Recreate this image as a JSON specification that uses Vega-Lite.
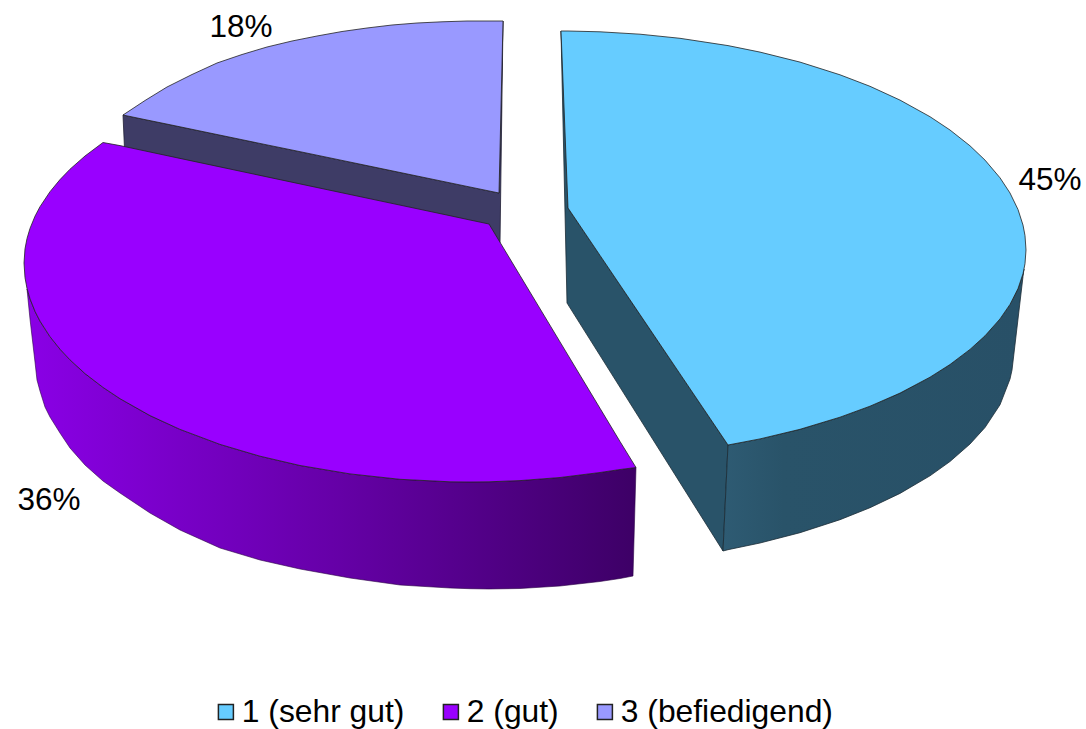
{"$schema":"https://vega.github.io/schema/vega-lite/v6.json","width":1086,"height":729,"padding":0,"autosize":{"type":"none"},"background":"white","config":{"view":{"stroke":null}},
"datasets":{"outline":[
{"slice":"1 (sehr gut)","face":"top","x":561,"y":31,"y2":31},{"slice":"1 (sehr gut)","face":"top","x":568,"y":31,"y2":208},{"slice":"1 (sehr gut)","face":"top","x":600,"y":31.8,"y2":255.4},{"slice":"1 (sehr gut)","face":"top","x":640,"y":34.2,"y2":314.6},{"slice":"1 (sehr gut)","face":"top","x":680,"y":38.3,"y2":373.9},{"slice":"1 (sehr gut)","face":"top","x":728,"y":45.6,"y2":445},{"slice":"1 (sehr gut)","face":"top","x":760,"y":52.1,"y2":438.9},{"slice":"1 (sehr gut)","face":"top","x":800,"y":62.1,"y2":429.3},{"slice":"1 (sehr gut)","face":"top","x":840,"y":74.8,"y2":417.2},{"slice":"1 (sehr gut)","face":"top","x":870,"y":86.3,"y2":406.2},{"slice":"1 (sehr gut)","face":"top","x":900,"y":100.1,"y2":393.1},{"slice":"1 (sehr gut)","face":"top","x":930,"y":116.7,"y2":377.2},{"slice":"1 (sehr gut)","face":"top","x":950,"y":130,"y2":364.5},{"slice":"1 (sehr gut)","face":"top","x":970,"y":145.8,"y2":349.4},{"slice":"1 (sehr gut)","face":"top","x":985,"y":160.1,"y2":335.8},{"slice":"1 (sehr gut)","face":"top","x":1000,"y":177.8,"y2":318.9},{"slice":"1 (sehr gut)","face":"top","x":1010,"y":193,"y2":304.4},{"slice":"1 (sehr gut)","face":"top","x":1018,"y":209.5,"y2":288.6},{"slice":"1 (sehr gut)","face":"top","x":1023,"y":225.1,"y2":273.7},{"slice":"1 (sehr gut)","face":"top","x":1025,"y":235.6,"y2":263.7},{"slice":"1 (sehr gut)","face":"top","x":1026,"y":250,"y2":250},
{"slice":"1 (sehr gut)","face":"side","x":723,"y":551,"y2":551},{"slice":"1 (sehr gut)","face":"side","x":728,"y":445,"y2":549.7},{"slice":"1 (sehr gut)","face":"side","x":760,"y":438.9,"y2":543},{"slice":"1 (sehr gut)","face":"side","x":800,"y":429.3,"y2":532.7},{"slice":"1 (sehr gut)","face":"side","x":840,"y":417.2,"y2":519.7},{"slice":"1 (sehr gut)","face":"side","x":870,"y":406.2,"y2":507.7},{"slice":"1 (sehr gut)","face":"side","x":900,"y":393.1,"y2":493.4},{"slice":"1 (sehr gut)","face":"side","x":930,"y":377.2,"y2":475.8},{"slice":"1 (sehr gut)","face":"side","x":950,"y":364.5,"y2":461.5},{"slice":"1 (sehr gut)","face":"side","x":970,"y":349.4,"y2":444},{"slice":"1 (sehr gut)","face":"side","x":985,"y":335.8,"y2":427.5},{"slice":"1 (sehr gut)","face":"side","x":1000,"y":318.9,"y2":404.8},{"slice":"1 (sehr gut)","face":"side","x":1010,"y":304.4,"y2":379},{"slice":"1 (sehr gut)","face":"side","x":1012,"y":300.9,"y2":370},{"slice":"1 (sehr gut)","face":"side","x":1018,"y":288.6,"y2":319},{"slice":"1 (sehr gut)","face":"side","x":1023,"y":273.7,"y2":276.5},{"slice":"1 (sehr gut)","face":"side","x":1024,"y":269,"y2":269},
{"slice":"1 (sehr gut)","face":"wall","x":561,"y":31,"y2":31},{"slice":"1 (sehr gut)","face":"wall","x":567,"y":150,"y2":303},{"slice":"1 (sehr gut)","face":"wall","x":568,"y":208,"y2":304.6},{"slice":"1 (sehr gut)","face":"wall","x":723,"y":437.6,"y2":551},{"slice":"1 (sehr gut)","face":"wall","x":728,"y":445,"y2":445},
{"slice":"3 (befiedigend)","face":"top","x":123,"y":115,"y2":115},{"slice":"3 (befiedigend)","face":"top","x":145,"y":100.5,"y2":119.6},{"slice":"3 (befiedigend)","face":"top","x":167,"y":87,"y2":124.1},{"slice":"3 (befiedigend)","face":"top","x":192,"y":74.5,"y2":129.3},{"slice":"3 (befiedigend)","face":"top","x":217,"y":63,"y2":134.5},{"slice":"3 (befiedigend)","face":"top","x":242,"y":54.5,"y2":139.7},{"slice":"3 (befiedigend)","face":"top","x":267,"y":47,"y2":144.9},{"slice":"3 (befiedigend)","face":"top","x":292,"y":41,"y2":150},{"slice":"3 (befiedigend)","face":"top","x":317,"y":36,"y2":155.2},{"slice":"3 (befiedigend)","face":"top","x":342,"y":31.5,"y2":160.4},{"slice":"3 (befiedigend)","face":"top","x":367,"y":28,"y2":165.6},{"slice":"3 (befiedigend)","face":"top","x":392,"y":25,"y2":170.8},{"slice":"3 (befiedigend)","face":"top","x":417,"y":23,"y2":176},{"slice":"3 (befiedigend)","face":"top","x":442,"y":21.8,"y2":181.2},{"slice":"3 (befiedigend)","face":"top","x":467,"y":21,"y2":186.4},{"slice":"3 (befiedigend)","face":"top","x":499,"y":21,"y2":193},{"slice":"3 (befiedigend)","face":"top","x":503,"y":21,"y2":21},
{"slice":"3 (befiedigend)","face":"wall","x":123,"y":115,"y2":115},{"slice":"3 (befiedigend)","face":"wall","x":125,"y":115.4,"y2":160},{"slice":"3 (befiedigend)","face":"wall","x":499,"y":193,"y2":243},{"slice":"3 (befiedigend)","face":"wall","x":500,"y":150,"y2":243},{"slice":"3 (befiedigend)","face":"wall","x":503,"y":21,"y2":21},
{"slice":"2 (gut)","face":"top","x":24,"y":263,"y2":263},{"slice":"2 (gut)","face":"top","x":25,"y":248.8,"y2":277.7},{"slice":"2 (gut)","face":"top","x":27,"y":238.5,"y2":288.4},{"slice":"2 (gut)","face":"top","x":30,"y":228.4,"y2":298.8},{"slice":"2 (gut)","face":"top","x":35,"y":216.2,"y2":311.3},{"slice":"2 (gut)","face":"top","x":40,"y":206.7,"y2":321.1},{"slice":"2 (gut)","face":"top","x":50,"y":191.7,"y2":336.7},{"slice":"2 (gut)","face":"top","x":60,"y":179.6,"y2":349.2},{"slice":"2 (gut)","face":"top","x":70,"y":169.2,"y2":359.9},{"slice":"2 (gut)","face":"top","x":85,"y":156,"y2":373.6},{"slice":"2 (gut)","face":"top","x":103,"y":142.5,"y2":387.4},{"slice":"2 (gut)","face":"top","x":120,"y":145.6,"y2":398.7},{"slice":"2 (gut)","face":"top","x":150,"y":152,"y2":415.6},{"slice":"2 (gut)","face":"top","x":180,"y":158.4,"y2":429.4},{"slice":"2 (gut)","face":"top","x":220,"y":166.9,"y2":444.4},{"slice":"2 (gut)","face":"top","x":260,"y":175.4,"y2":456.2},{"slice":"2 (gut)","face":"top","x":300,"y":183.9,"y2":465.5},{"slice":"2 (gut)","face":"top","x":350,"y":194.5,"y2":473.9},{"slice":"2 (gut)","face":"top","x":400,"y":205.1,"y2":479.3},{"slice":"2 (gut)","face":"top","x":450,"y":215.7,"y2":481.8},{"slice":"2 (gut)","face":"top","x":470,"y":220,"y2":482},{"slice":"2 (gut)","face":"top","x":489,"y":224,"y2":481.8},{"slice":"2 (gut)","face":"top","x":520,"y":275.5,"y2":480.6},{"slice":"2 (gut)","face":"top","x":560,"y":341.9,"y2":477.5},{"slice":"2 (gut)","face":"top","x":600,"y":408.3,"y2":472.5},{"slice":"2 (gut)","face":"top","x":620,"y":441.5,"y2":469.5},{"slice":"2 (gut)","face":"top","x":636,"y":467.5,"y2":467.5},
{"slice":"2 (gut)","face":"side","x":27,"y":289,"y2":289},{"slice":"2 (gut)","face":"side","x":30,"y":298.8,"y2":319},{"slice":"2 (gut)","face":"side","x":35,"y":311.3,"y2":362},{"slice":"2 (gut)","face":"side","x":37,"y":315.5,"y2":380},{"slice":"2 (gut)","face":"side","x":40,"y":321.1,"y2":391},{"slice":"2 (gut)","face":"side","x":45,"y":329.4,"y2":407},{"slice":"2 (gut)","face":"side","x":50,"y":336.7,"y2":417},{"slice":"2 (gut)","face":"side","x":60,"y":349.2,"y2":433},{"slice":"2 (gut)","face":"side","x":70,"y":359.9,"y2":448},{"slice":"2 (gut)","face":"side","x":85,"y":373.6,"y2":465},{"slice":"2 (gut)","face":"side","x":103,"y":387.4,"y2":481},{"slice":"2 (gut)","face":"side","x":120,"y":398.7,"y2":493},{"slice":"2 (gut)","face":"side","x":150,"y":415.6,"y2":513},{"slice":"2 (gut)","face":"side","x":180,"y":429.4,"y2":530},{"slice":"2 (gut)","face":"side","x":220,"y":444.4,"y2":548},{"slice":"2 (gut)","face":"side","x":260,"y":456.2,"y2":560},{"slice":"2 (gut)","face":"side","x":300,"y":465.5,"y2":569},{"slice":"2 (gut)","face":"side","x":350,"y":473.9,"y2":578},{"slice":"2 (gut)","face":"side","x":400,"y":479.3,"y2":585},{"slice":"2 (gut)","face":"side","x":450,"y":481.8,"y2":588},{"slice":"2 (gut)","face":"side","x":470,"y":482,"y2":588.7},{"slice":"2 (gut)","face":"side","x":489,"y":481.8,"y2":589},{"slice":"2 (gut)","face":"side","x":520,"y":480.6,"y2":588.5},{"slice":"2 (gut)","face":"side","x":560,"y":477.5,"y2":586},{"slice":"2 (gut)","face":"side","x":600,"y":472.5,"y2":581.5},{"slice":"2 (gut)","face":"side","x":620,"y":469.5,"y2":578.5},{"slice":"2 (gut)","face":"side","x":633,"y":467.8,"y2":576},{"slice":"2 (gut)","face":"side","x":636,"y":467.5,"y2":467.5}
],
"labels":[{"slice":"1 (sehr gut)","share":"45%","x":1050,"y":181},{"slice":"2 (gut)","share":"36%","x":49,"y":501},{"slice":"3 (befiedigend)","share":"18%","x":241,"y":28}]},
"data":{"name":"outline"},
"encoding":{
"x":{"field":"x","type":"quantitative","scale":{"domain":[0,1086],"nice":false,"zero":false},"axis":null},
"y":{"field":"y","type":"quantitative","scale":{"domain":[729,0],"nice":false,"zero":false},"axis":null},
"y2":{"field":"y2"}},
"layer":[
{"transform":[{"filter":"datum.face==='wall' && datum.slice==='1 (sehr gut)'"}],"mark":{"type":"area","orient":"vertical","fill":"#295369","stroke":"#1c2c36","strokeWidth":0.8}},
{"transform":[{"filter":"datum.face==='wall' && datum.slice==='3 (befiedigend)'"}],"mark":{"type":"area","orient":"vertical","fill":"#3e3c66","stroke":"#1f1e33","strokeWidth":0.8}},
{"transform":[{"filter":"datum.face==='side' && datum.slice==='1 (sehr gut)'"}],"mark":{"type":"area","orient":"vertical","stroke":"#1c2c36","strokeWidth":0.8,"fill":{"gradient":"linear","x1":0,"x2":1,"y1":0,"y2":0,"stops":[{"offset":0,"color":"#2e5b73"},{"offset":0.2,"color":"#295369"},{"offset":1,"color":"#285067"}]}}},
{"transform":[{"filter":"datum.face==='side' && datum.slice==='2 (gut)'"}],"mark":{"type":"area","orient":"vertical","stroke":"#2a0044","strokeWidth":0.6,"fill":{"gradient":"linear","x1":0,"x2":1,"y1":0,"y2":0,"stops":[{"offset":0,"color":"#8a00e6"},{"offset":0.5,"color":"#6600a8"},{"offset":1,"color":"#3d0066"}]}}},
{"transform":[{"filter":"datum.face==='top'"}],"mark":{"type":"area","orient":"vertical","stroke":"#222222","strokeWidth":0.8},
"encoding":{"color":{"field":"slice","type":"nominal","scale":{"domain":["1 (sehr gut)","2 (gut)","3 (befiedigend)"],"range":["#66ccff","#9900ff","#9999ff"]},
"legend":{"title":null,"orient":"none","legendX":210,"legendY":694,"direction":"horizontal","columns":3,"symbolType":"square","symbolSize":225,"symbolStrokeColor":"#222222","symbolStrokeWidth":1.5,"symbolOpacity":1,"labelFont":"Liberation Sans","labelFontSize":31.8,"labelColor":"#000000","labelLimit":400,"labelOffset":0,"columnPadding":30,"clipHeight":36}}}},
{"data":{"name":"labels"},"mark":{"type":"text","font":"Liberation Sans","fontSize":31.5,"color":"#000000","align":"center","baseline":"middle"},
"encoding":{"x":{"field":"x","type":"quantitative"},"y":{"field":"y","type":"quantitative"},"y2":null,"text":{"field":"share","type":"nominal"}}}
]}
